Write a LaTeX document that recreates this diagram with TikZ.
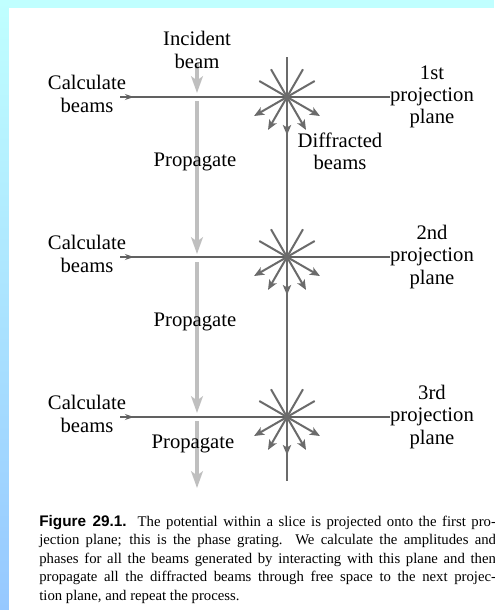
\documentclass[tikz,border=0pt]{standalone}
\usepackage{fontspec}
\setmainfont{Liberation Serif}
\newfontfamily\capsans{Liberation Sans}
\usetikzlibrary{arrows.meta,positioning}
\definecolor{edgecyan}{RGB}{192,255,255}
\definecolor{edgeblue}{RGB}{150,200,255}

\begin{document}
\begin{tikzpicture}[x=0.6pt,y=-0.6pt]
    \tikzset{
      lbl/.style={font=\fontsize{12.4}{13.4}\selectfont,align=center,inner sep=0pt},
      plane/.style={draw=black!62,line width=0.75pt},
      spoke/.style={draw=black!58,line width=1.2pt},
      outarr/.style={spoke,-{Stealth[length=6pt,width=5pt,inset=1.5pt]}},
      inarr/.style={plane,-{Stealth[length=5.5pt,width=3.6pt]}},
      prop/.style={draw=black!25,line width=2.8pt,
        -{Stealth[length=10pt,width=7pt,inset=2.5pt]}}
    }
    \useasboundingbox (0,0) rectangle (494,610);
    % page and scanner edges
    \fill[edgecyan] (0,0) rectangle (494,8);
    \shade[top color=edgecyan,bottom color=edgeblue] (0,0) rectangle (9,610);
    \fill[white] (9,8) rectangle (494,610);

    % propagation arrow (grey, behind the labels)
    \coordinate (p0) at (197,63);
    \coordinate (p1) at (197,93);
    \coordinate (q1) at (197,101);
    \coordinate (p2) at (197,254);
    \coordinate (q2) at (197,262);
    \coordinate (p3) at (197,413);
    \coordinate (q3) at (197,421);
    \coordinate (p4) at (197,488);
    \draw[prop] (p0) -- (p1);
    \draw[prop] (q1) -- (p2);
    \draw[prop] (q2) -- (p3);
    \draw[prop] (q3) -- (p4);

    % beam axis through the three planes
    \coordinate (top) at (287,57);
    \coordinate (bot) at (287,481);
    \coordinate (c1) at (287,97);
    \coordinate (c2) at (287,257);
    \coordinate (c3) at (287,417);
    \draw[spoke] (top) -- (c1) -- (c2) -- (c3) -- (bot);

    % the projection planes (y axis points down here)
    \foreach \n/\yy/\ord in {1/97/1st,2/257/2nd,3/417/3rd}{
      \node[lbl] (calc\n) at (87,\yy-3) {Calculate\\beams};
      \coordinate (in\n) at (120,\yy);
      \coordinate (mid\n) at (134,\yy);
      \node[lbl] (plane\n) at (432,\yy) {\ord\\projection\\plane};
      \draw[plane] (in\n) -- (plane\n.west);
      \draw[inarr] (in\n) -- (mid\n);
      \foreach \a in {-30,-60,-120,-150}
        \draw[spoke] (c\n) -- ++(\a:32);
      \foreach \a in {30,60,90,120,150}
        \draw[outarr] (c\n) -- ++(\a:38);
    }

    \node[lbl] (inc) at (197,50) {Incident\\beam};
    \node[lbl] (diff) at (340,151) {Diffracted\\beams};
    \node[lbl] (prop1) at (195,162) {Propagate};
    \node[lbl] (prop2) at (195,322) {Propagate};
    \node[lbl] (prop3) at (193,444) {Propagate};

    \node[anchor=north west,inner sep=0pt,text width=274pt,align=justify,
      font=\fontsize{8.85}{11.1}\selectfont] (cap) at (39,515)
      {{\capsans\bfseries\fontsize{9.2}{11.1}\selectfont Figure 29.1.}\hspace{0.75em}The
      potential within a slice is projected onto the first pro-\linebreak
      jection plane; this is the phase grating. We calculate the amplitudes and\linebreak
      phases for all the beams generated by interacting with this plane and then\linebreak
      propagate all the diffracted beams through free space to the next projec-\linebreak
      tion plane, and repeat the process.};
  \end{tikzpicture}
\end{document}
